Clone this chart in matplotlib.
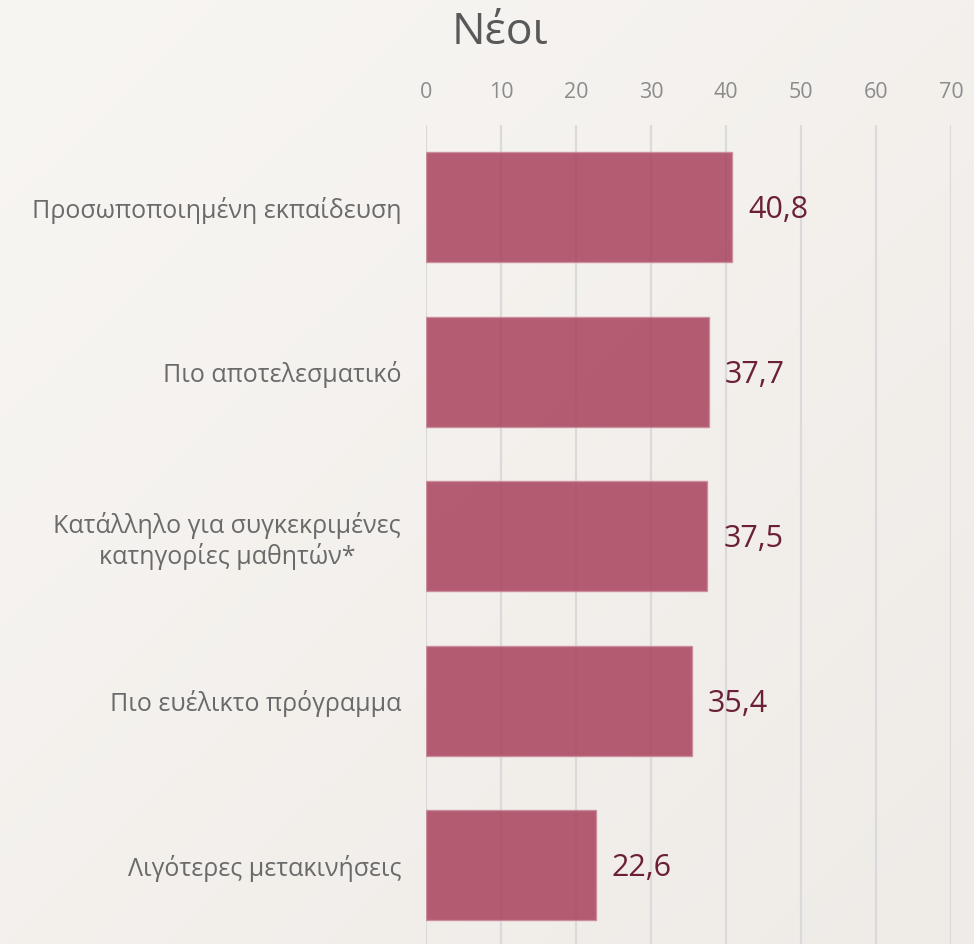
import numpy as np
import matplotlib
matplotlib.use("Agg")
import matplotlib.pyplot as plt

plt.rcParams['font.family'] = ['Open Sans', 'DejaVu Sans']

categories = ["Προσωποποιημένη εκπαίδευση",
              "Πιο αποτελεσματικό",
              "Κατάλληλο για συγκεκριμένες\nκατηγορίες μαθητών*",
              "Πιο ευέλικτο πρόγραμμα",
              "Λιγότερες μετακινήσεις"]
values = [40.8, 37.7, 37.5, 35.4, 22.6]
xticks = [0, 10, 20, 30, 40, 50, 60, 70]

fig = plt.figure(figsize=(9.74, 9.44), dpi=100)

# background gradient
bg = fig.add_axes([0, 0, 1, 1])
gx, gy = np.meshgrid(np.linspace(0, 1, 200), np.linspace(0, 1, 200))
g = (gx + gy) / 2
c0 = np.array([248, 246, 243]) / 255
c1 = np.array([239, 235, 231]) / 255
img = c0[None, None, :] * (1 - g[..., None]) + c1[None, None, :] * g[..., None]
bg.imshow(img, aspect='auto', extent=[0, 1, 0, 1], origin='upper')
bg.axis('off')

ax = fig.add_axes([0.4374, 0.0, 0.539, 0.8676])
ax.patch.set_alpha(0)
y = np.arange(len(categories))
ax.barh(y, values, height=0.67, color='#A8425C', alpha=0.85,
        edgecolor='#C98A99', linewidth=1, zorder=3)
for yi, v in zip(y, values):
    ax.annotate(f"{v:.1f}".replace('.', ','), (v, yi), xytext=(16, -3),
                textcoords='offset pixels', va='center', ha='left',
                fontsize=22, color='#6B2038')

ax.set_xlim(0, 70)
ax.set_ylim(4.48, -0.5)
ax.set_xticks(xticks)
ax.xaxis.tick_top()
ax.tick_params(axis='x', length=0, pad=16, labelsize=15.5, labelcolor='#8C8C8C')
ax.set_yticks(y)
ax.set_yticklabels(categories, ha='right', multialignment='center')
ax.tick_params(axis='y', length=0, pad=18, labelsize=18, labelcolor='#6A6A6A')
ax.grid(axis='x', color='#DADADA', linewidth=1.6, zorder=0)
for s in ax.spines.values():
    s.set_visible(False)

fig.text(0.513, 0.965, "Νέοι", ha='center', va='center', fontsize=32, color='#595959')

fig.savefig("out.png", dpi=100)
